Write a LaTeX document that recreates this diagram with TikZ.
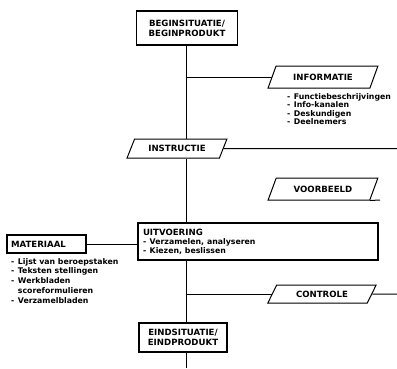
\documentclass[tikz,border=0pt]{standalone}
\usepackage{fontspec}
\setmainfont{DejaVu Sans}
\usetikzlibrary{shapes.geometric}
\newcommand{\dsh}{-\hspace{3.5pt}}
\begin{document}
\begin{tikzpicture}[x=1pt,y=-1pt,
  box/.style={draw, line width=1.1pt, fill=white, inner sep=0pt, align=center,
    font=\bfseries\fontsize{8.6}{10}\selectfont},
  para/.style={trapezium, trapezium left angle=52, trapezium right angle=128,
    trapezium stretches=true, draw, line width=1pt, fill=white, inner sep=0pt,
    font=\bfseries\fontsize{8.6}{10}\selectfont},
  lst/.style={anchor=north west, align=left, inner sep=0pt,
    font=\bfseries\fontsize{7.8}{8.6}\selectfont},
  conn/.style={line width=1pt}]
\useasboundingbox (0,0) rectangle (397,368);
% nodes
\node[box, minimum width=101pt, minimum height=34pt] (begin) at (187,28) {BEGINSITUATIE/\\BEGINPRODUKT};
\node[para, minimum width=110pt, minimum height=22pt] (info) at (323,77) {INFORMATIE};
\node[lst] (infolist) at (287,93) {\dsh Functiebeschrijvingen\\\dsh Info-kanalen\\\dsh Deskundigen\\\dsh Deelnemers};
\node[para, minimum width=100pt, minimum height=19pt] (instr) at (177,148.5) {INSTRUCTIE};
\coordinate (instrend) at (397,148.5);
\node[para, minimum width=110pt, minimum height=22pt] (voorb) at (323,189) {VOORBEELD};
\coordinate (vstub) at (380,200);
\node[box, minimum width=240pt, minimum height=37pt, text width=230pt, align=left, font=\bfseries\fontsize{8.6}{10}\selectfont] (uitv) at (258,241.5) {UITVOERING\\[-1pt]{\fontsize{7.8}{10}\selectfont \dsh Verzamelen, analyseren}\\[-1pt]{\fontsize{7.8}{10}\selectfont \dsh Kiezen, beslissen}};
\node[box, minimum width=79pt, minimum height=18pt, text width=71pt, align=left] (mat) at (46.5,244) {MATERIAAL};
\node[lst, font=\bfseries\fontsize{7.8}{9.8}\selectfont] (matlist) at (11,258) {\dsh Lijst van beroepstaken\\\dsh Teksten stellingen\\\dsh Werkbladen\\\phantom{\dsh}scoreformulieren\\\dsh Verzamelbladen};
\node[para, minimum width=109pt, minimum height=18pt] (contr) at (322,294) {CONTROLE};
\coordinate (contrend) at (397,294);
\node[box, minimum width=88pt, minimum height=29pt] (eind) at (183,337.5) {EINDSITUATIE/\\EINDPRODUKT};
\coordinate (bottom) at (186,368);
% connectors
\coordinate (vx) at (186,0);
\draw[conn] (vx |- begin.south) -- (vx |- instr.north);
\draw[conn] (vx |- instr.south) -- (vx |- uitv.north);
\draw[conn] (vx |- uitv.south) -- (vx |- eind.north);
\draw[conn] (vx |- eind.south) -- (bottom);
\draw[conn] (vx |- info.180) -- (info.180);
\draw[conn] (instr.0) -- (instrend);
\draw[conn] (voorb.bottom right corner) -- (vstub);
\draw[conn] (mat.east) -- (mat.east -| uitv.west);
\draw[conn] (vx |- contr.180) -- (contr.180);
\draw[conn] (contr.0) -- (contrend);
\end{tikzpicture}
\end{document}
